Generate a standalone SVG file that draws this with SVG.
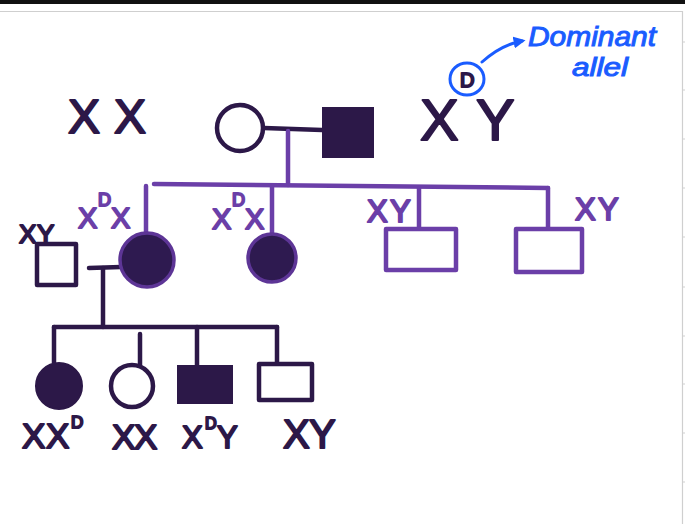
<svg xmlns="http://www.w3.org/2000/svg" width="685" height="524" viewBox="0 0 685 524">
<defs>
<style>
.bg{fill:#fff}
.dk{fill:none;stroke:#2c1848;stroke-width:4.5;stroke-linecap:round;stroke-linejoin:round}
.dkf{fill:#2c1848;stroke:#2c1848;stroke-width:2}
.pu{fill:none;stroke:#6b3fa8;stroke-width:4.5;stroke-linecap:round;stroke-linejoin:round}
.puf{fill:#2e1a50;stroke:#5d3596;stroke-width:3.5}
.tdk{font-family:"Liberation Sans",Arial,sans-serif;fill:#2c1848;stroke:#2c1848;stroke-width:2;stroke-linejoin:round}
.tpu{font-family:"Liberation Sans",Arial,sans-serif;fill:#6b3fa8;stroke:#6b3fa8;stroke-width:2;stroke-linejoin:round}
.tbl{font-family:"Liberation Sans",Arial,sans-serif;font-style:italic;fill:#1a5cff;stroke:#1a5cff;stroke-width:1}
.bl{fill:none;stroke:#1a5cff;stroke-width:3;stroke-linecap:round}
.fr{stroke:#cfcfcf;stroke-width:1.2;fill:none}
</style>
<marker id="ah" viewBox="0 0 10 10" refX="7" refY="5" markerWidth="4" markerHeight="4" orient="auto">
<path d="M0,0 L10,5 L0,10 z" fill="#1a5cff"/>
</marker>
</defs>
<rect class="bg" x="0" y="0" width="685" height="524"/>
<g id="frame">
<rect x="0" y="0" width="685" height="4" fill="#111"/>
<path class="fr" d="M0,11.5 H682.5 V524"/>
<path class="fr" d="M682.5,42 H685 M682.5,90 H685 M682.5,139 H685 M682.5,188 H685 M682.5,237 H685 M682.5,287 H685 M682.5,336 H685 M682.5,384 H685 M682.5,433 H685 M682.5,482 H685"/>
</g>
<g id="connectors">
<path class="dk" d="M264,128 L322,130"/>
<path class="pu" d="M288,131 V185"/>
<path class="pu" d="M154,184 L548,188"/>
<path class="pu" d="M146,186 V234"/>
<path class="pu" d="M272,187 V235"/>
<path class="pu" d="M419,188 V228"/>
<path class="pu" d="M548,188 V228"/>
<path class="dk" d="M89,268 L121,267"/>
<path class="dk" d="M103,268 V327"/>
<path class="dk" d="M54,327 H277"/>
<path class="dk" d="M54,327 V363"/>
<path class="dk" d="M140,334 V366"/>
<path class="dk" d="M197,327 V365"/>
<path class="dk" d="M277,327 V363"/>
</g>
<g id="gen1-mother">
<circle class="dk" cx="240" cy="128" r="23"/>
<text class="tdk" font-size="48"><tspan x="68" y="133">X</tspan><tspan x="114" y="133">X</tspan></text>
</g>
<g id="gen1-father">
<rect class="dkf" x="323" y="108" width="50" height="49"/>
<text class="tdk" font-size="58"><tspan x="420" y="140">X</tspan><tspan x="460" y="87" font-size="20">D</tspan><tspan x="476" y="140">Y</tspan></text>
</g>
<g id="annotation">
<ellipse class="bl" cx="467" cy="79" rx="17" ry="16"/>
<path class="bl" d="M482,62 C493,52 505,44 522,41" marker-end="url(#ah)"/>
<text class="tbl" x="528" y="46" font-size="28" textLength="128" lengthAdjust="spacingAndGlyphs">Dominant</text>
<text class="tbl" x="572" y="76" font-size="26" textLength="56" lengthAdjust="spacingAndGlyphs">allel</text>
</g>
<g id="gen2-husband">
<rect class="dk" x="37" y="244" width="39" height="41"/>
<text class="tdk" font-size="26"><tspan x="19" y="243">X</tspan><tspan x="37" y="243">Y</tspan></text>
</g>
<g id="gen2-daughter1">
<circle class="puf" cx="147" cy="260" r="27"/>
<text class="tpu" font-size="29"><tspan x="78" y="228">X</tspan><tspan x="98" y="206" font-size="18">D</tspan><tspan x="111" y="228">X</tspan></text>
</g>
<g id="gen2-daughter2">
<circle class="puf" cx="272" cy="258" r="24"/>
<text class="tpu" font-size="29"><tspan x="212" y="229">X</tspan><tspan x="232" y="206" font-size="18">D</tspan><tspan x="245" y="229">X</tspan></text>
</g>
<g id="gen2-son1">
<rect class="pu" x="386" y="229" width="70" height="41"/>
<text class="tpu" font-size="31"><tspan x="367" y="222">X</tspan><tspan x="390" y="222">Y</tspan></text>
</g>
<g id="gen2-son2">
<rect class="pu" x="516" y="229" width="66" height="43"/>
<text class="tpu" font-size="31"><tspan x="575" y="220">X</tspan><tspan x="598" y="220">Y</tspan></text>
</g>
<g id="gen3-daughter1">
<circle class="dkf" cx="59" cy="386" r="23"/>
<text class="tdk" font-size="35"><tspan x="22" y="448">X</tspan><tspan x="46" y="448">X</tspan><tspan x="71" y="428" font-size="17">D</tspan></text>
</g>
<g id="gen3-daughter2">
<circle class="dk" cx="132" cy="386" r="21"/>
<text class="tdk" font-size="35"><tspan x="112" y="449">X</tspan><tspan x="134" y="449">X</tspan></text>
</g>
<g id="gen3-son1">
<rect class="dkf" x="178" y="366" width="54" height="37"/>
<text class="tdk" font-size="31"><tspan x="182" y="448">X</tspan><tspan x="205" y="429" font-size="16">D</tspan><tspan x="217" y="448">Y</tspan></text>
</g>
<g id="gen3-son2">
<rect class="dk" x="259" y="364" width="53" height="36"/>
<text class="tdk" font-size="40"><tspan x="283" y="448">X</tspan><tspan x="309" y="448">Y</tspan></text>
</g>
</svg>
